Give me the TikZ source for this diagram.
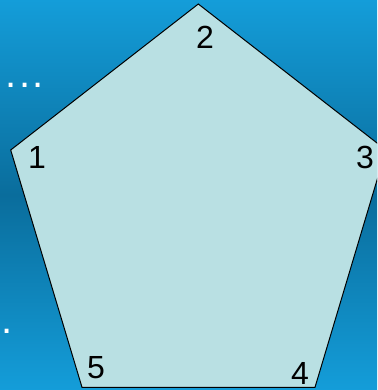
\documentclass[tikz,border=0pt]{standalone}
\usepackage{fontspec}
\setmainfont{Liberation Sans}
\definecolor{bglight}{HTML}{149DD9}
\definecolor{bgdark}{HTML}{0A6D9C}
\definecolor{pentfill}{HTML}{B9E0E3}
\tikzset{
  vlabel/.style={font=\fontsize{32}{32}\selectfont, text=black, inner sep=0pt},
  dotmark/.style={font=\fontsize{40}{40}\selectfont, text=white, inner sep=0pt},
}
\begin{document}
\begin{tikzpicture}[x=1pt,y=1pt]
\useasboundingbox (0,0) rectangle (377,390);
\clip (0,0) rectangle (377,390);
\shade[top color=bglight, bottom color=bglight, middle color=bgdark] (0,0) rectangle (377,390);
\coordinate (p2) at (198.3,386);
\coordinate (p1) at (10.7,240);
\coordinate (p3) at (386,240);
\coordinate (p4) at (315,2.7);
\coordinate (p5) at (82,2.7);
\draw[fill=pentfill, line width=1pt, line join=miter] (p1) -- (p2) -- (p3) -- (p4) -- (p5) -- cycle;
\node[vlabel] (l2) at (205,353) {2};
\node[vlabel] (l1) at (37,233) {1};
\node[vlabel] (l3) at (365,233) {3};
\node[vlabel] (l5) at (96,22) {5};
\node[vlabel] (l4) at (300,17) {4};
\node[dotmark, anchor=base west] (d1) at (5.2,302.3) {.\hspace{2.5pt}.\hspace{2.5pt}.};
\node[dotmark, anchor=base west] (d2) at (1.2,56.3) {.};
\end{tikzpicture}
\end{document}
